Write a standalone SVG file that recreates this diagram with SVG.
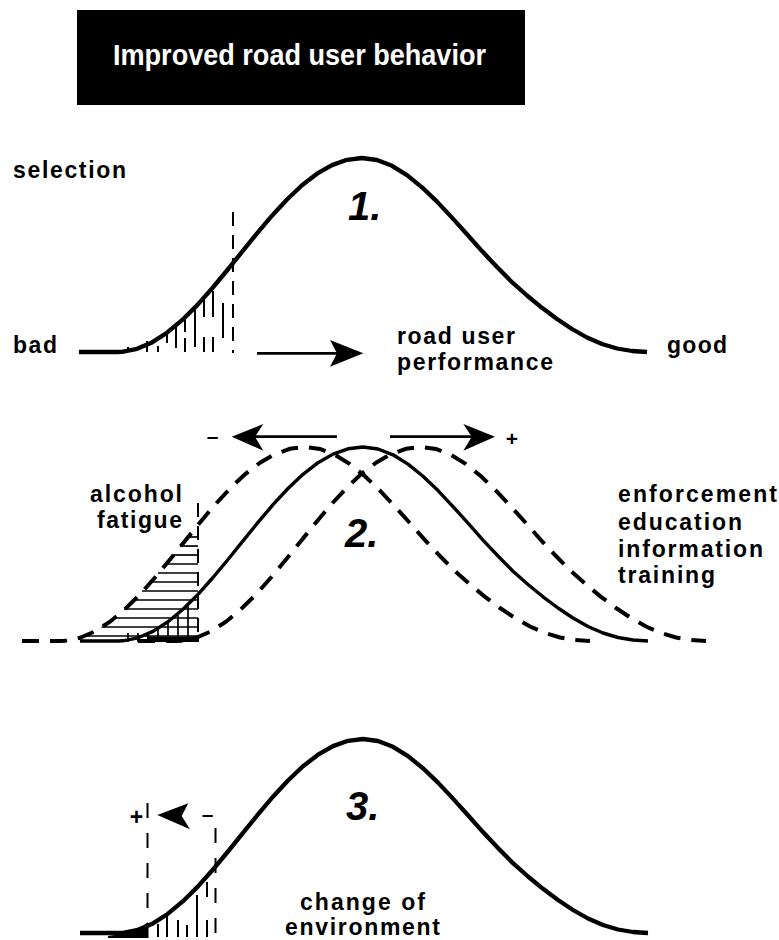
<svg xmlns="http://www.w3.org/2000/svg" width="779" height="940" viewBox="0 0 779 940">
<style>
text{font-family:"Liberation Sans",Arial,sans-serif;font-weight:bold;fill:#000}
.lbl{font-size:23px}
.num{font-size:40px;font-style:italic}
.sign{font-size:21px;text-anchor:middle}
.title{font-size:30px;fill:#fff}
.curve{fill:none;stroke:#000;stroke-width:4.3;stroke-linejoin:round}
.curve2{fill:none;stroke:#000;stroke-width:3.4;stroke-linejoin:round}
.dcurve{fill:none;stroke:#000;stroke-width:4;stroke-dasharray:17 11}
.hatch{stroke:#000;stroke-width:2;fill:none}
.hh{stroke:#000;stroke-width:1.7;fill:none}
.vdash{stroke:#000;stroke-width:2;stroke-dasharray:14 9;fill:none}
.vdash3{stroke:#000;stroke-width:2;stroke-dasharray:15 15;fill:none}
.shaft{stroke:#000;stroke-width:2.8;fill:none}
.head{fill:#000;stroke:none}
</style>
<defs>
<path id="bell" d="M-283,0 L-245,0 L-240,-0.2 L-225,-3.2 L-210,-9.6 L-195,-19.3 L-180,-31.8 L-165,-46.6 L-150,-63.5 L-135,-81.5 L-120,-100.1 L-105,-118.6 L-90,-136.3 L-75,-152.5 L-60,-166.7 L-45,-178.3 L-30,-186.9 L-15,-192.2 L0,-194 L15,-192 L30,-186.2 L45,-176.9 L60,-164.7 L75,-150.4 L90,-134.4 L105,-117.8 L120,-100.9 L135,-85 L150,-69.8 L165,-56.5 L180,-44.2 L195,-33 L210,-23 L225,-14.5 L240,-8 L255,-3.5 L270,-1 L285,0"/>
</defs>
<rect width="779" height="940" fill="#fff"/>

<g id="title">
<rect x="77" y="10" width="448" height="95" fill="#000"/>
<text class="title" x="113" y="65" textLength="373" lengthAdjust="spacingAndGlyphs">Improved road user behavior</text>
</g>

<g id="section1">
<g id="hatch1" class="hatch">
<line x1="128" y1="347" x2="128" y2="352"/>
<line x1="147" y1="341" x2="147" y2="352"/>
<line x1="158" y1="346" x2="158" y2="352"/>
<line x1="167" y1="334" x2="167" y2="343"/>
<line x1="176" y1="327" x2="176" y2="348"/>
<line x1="185" y1="319" x2="185" y2="332"/>
<line x1="185" y1="338" x2="185" y2="352"/>
<line x1="195" y1="310" x2="195" y2="347"/>
<line x1="204" y1="300" x2="204" y2="317"/>
<line x1="204" y1="337" x2="204" y2="352"/>
<line x1="213" y1="291" x2="213" y2="317"/>
<line x1="213" y1="337" x2="213" y2="352"/>
<line x1="223" y1="303" x2="223" y2="338"/>
</g>
<line id="cut1" class="vdash" x1="233" y1="212" x2="233" y2="353"/>
<use id="curve1" href="#bell" class="curve" transform="translate(362,352)"/>
<text class="lbl" x="13" y="178" textLength="113">selection</text>
<text class="lbl" x="13" y="353" textLength="44">bad</text>
<text class="num" x="348" y="220">1.</text>
<text class="lbl" x="397" y="344" textLength="118">road user</text>
<text class="lbl" x="397" y="370" textLength="156">performance</text>
<text class="lbl" x="667" y="353" textLength="60">good</text>
</g>

<g id="section2">
<g id="hatch2" class="hh">
<line x1="187" y1="537" x2="198" y2="537"/>
<line x1="180" y1="546" x2="198" y2="546"/>
<line x1="173" y1="555" x2="198" y2="555"/>
<line x1="165.5" y1="564" x2="198" y2="564"/>
<line x1="158" y1="573" x2="198" y2="573"/>
<line x1="150" y1="582" x2="198" y2="582"/>
<line x1="142" y1="591" x2="198" y2="591"/>
<line x1="133.5" y1="600" x2="198" y2="600"/>
<line x1="124" y1="609" x2="198" y2="609"/>
<line x1="114" y1="618" x2="198" y2="618"/>
<line x1="101.5" y1="627" x2="198" y2="627"/>
<line x1="84" y1="636" x2="198" y2="636"/>
<line x1="148" y1="634" x2="148" y2="641"/>
<line x1="158" y1="628" x2="158" y2="641"/>
<line x1="168" y1="622" x2="168" y2="641"/>
<line x1="178" y1="614" x2="178" y2="641"/>
<line x1="188" y1="605" x2="188" y2="641"/>
<line x1="128" y1="633" x2="128" y2="642"/>
<line x1="138" y1="633" x2="138" y2="642"/>
</g>
<rect x="147" y="636.5" width="52" height="5.5" fill="#000"/>
<line id="cut2" class="vdash" x1="198" y1="503" x2="198" y2="641"/>
<use id="curve2-left" href="#bell" class="dcurve" transform="translate(305,641)"/>
<use id="curve2-right" href="#bell" class="dcurve" transform="translate(421,641)"/>
<use id="curve2" href="#bell" class="curve2" transform="translate(363,641)"/>
<text class="lbl" x="90" y="502" textLength="92">alcohol</text>
<text class="lbl" x="97" y="528" textLength="85">fatigue</text>
<text class="num" x="345" y="547">2.</text>
<text class="lbl" x="618" y="502" textLength="159">enforcement</text>
<text class="lbl" x="618" y="530" textLength="124">education</text>
<text class="lbl" x="618" y="557" textLength="145">information</text>
<text class="lbl" x="618" y="583" textLength="97">training</text>
<text class="sign" x="212.5" y="443">–</text>
<text class="sign" x="512" y="446">+</text>
</g>

<g id="section3">
<g id="hatch3" class="hatch">
<line x1="158" y1="924" x2="158" y2="937"/>
<line x1="167" y1="916" x2="167" y2="937"/>
<line x1="178" y1="920" x2="178" y2="937"/>
<line x1="187" y1="925" x2="187" y2="937"/>
<line x1="197" y1="895" x2="197" y2="937"/>
<line x1="207" y1="882" x2="207" y2="897"/>
<line x1="207" y1="920" x2="207" y2="937"/>
</g>
<line class="vdash3" x1="147.5" y1="803" x2="147.5" y2="938"/>
<line class="vdash3" x1="215.5" y1="828" x2="215.5" y2="938"/>
<polygon points="108,936 125,933.5 138,930 148,922 148,938 108,938" fill="#000"/>
<use id="curve3" href="#bell" class="curve" transform="translate(363,933)"/>
<text class="num" x="346" y="820">3.</text>
<text class="sign" x="136.5" y="825" style="font-size:23px">+</text>
<text class="sign" x="207.5" y="821">–</text>
<text class="lbl" x="300" y="910" textLength="125">change of</text>
<text class="lbl" x="285" y="935" textLength="155">environment</text>
</g>

<g id="connectors">
<line class="shaft" x1="257" y1="353.3" x2="340" y2="353.3"/>
<path class="head" d="M363.3,353.3 L330,340 L337,353.3 L330,366.7 Z"/>
<line class="shaft" x1="253" y1="436.7" x2="337" y2="436.7"/>
<path class="head" d="M231.7,436.7 L263.3,424 L255,436.7 L263.3,450.7 Z"/>
<line class="shaft" x1="390" y1="436.7" x2="474" y2="436.7"/>
<path class="head" d="M495,436.7 L463.3,424 L471.7,436.7 L463.3,450.7 Z"/>
<path class="head" d="M157.3,815 L188.3,803.3 L181.7,816 L190,829.3 Z"/>
</g>
</svg>
